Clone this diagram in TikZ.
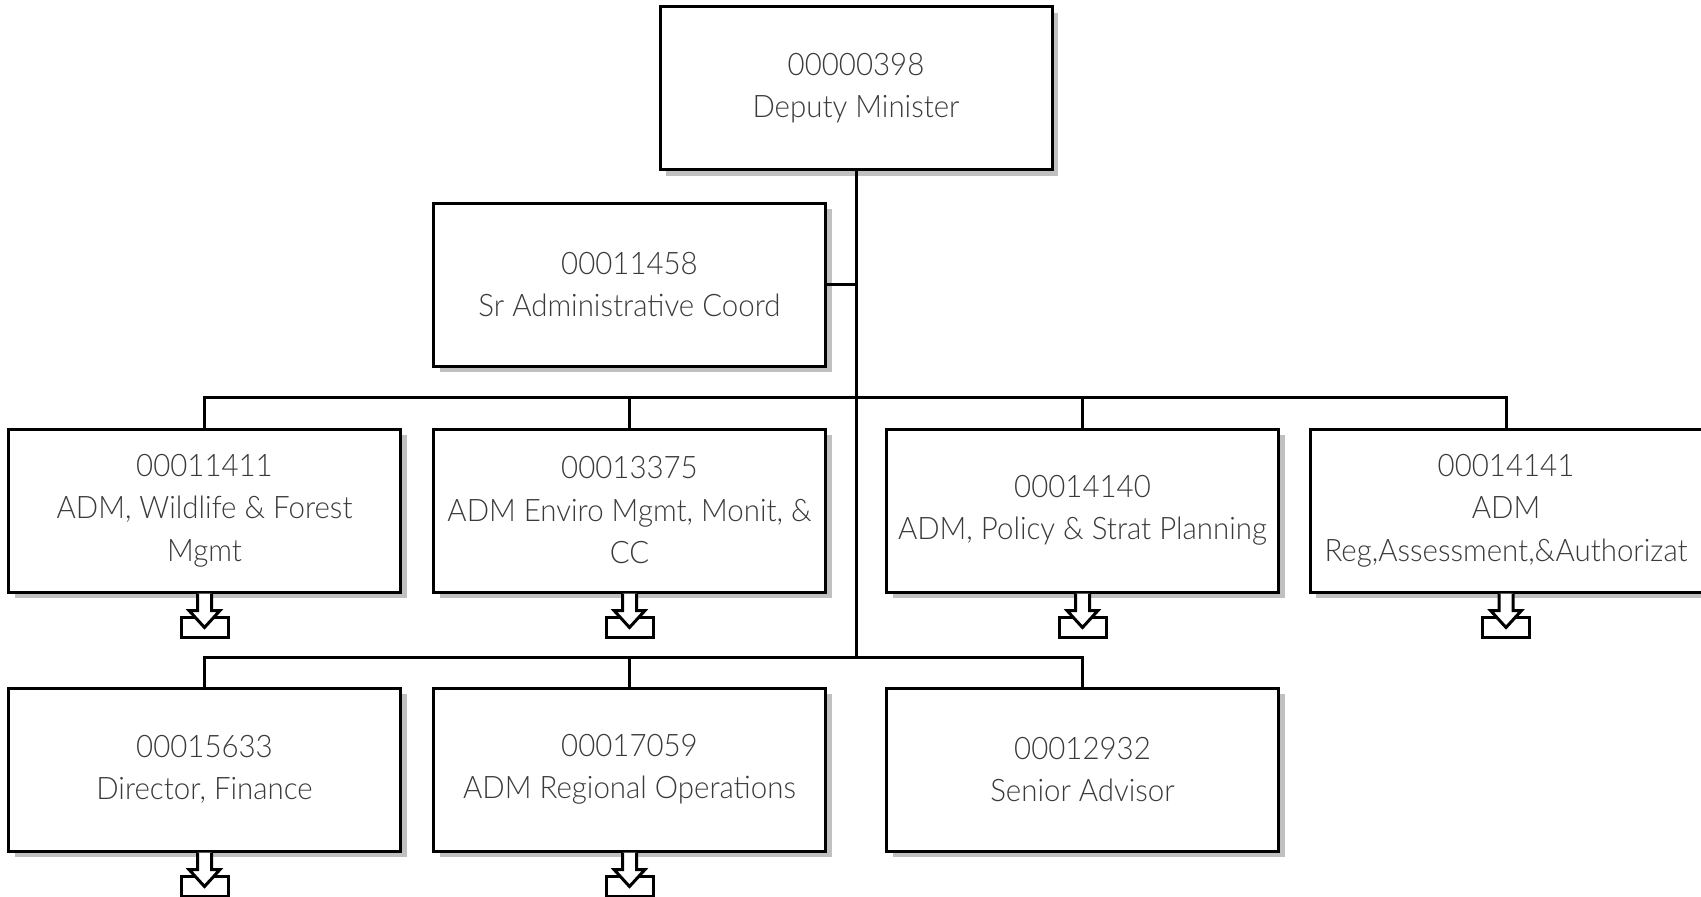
\documentclass[tikz,border=0pt]{standalone}
\usepackage{fontspec}
\setmainfont{Lato Light}[FakeStretch=0.95]
\usetikzlibrary{shadows}
\definecolor{shadowgray}{HTML}{C0C0C0}
\definecolor{txtgray}{HTML}{3A3A3A}
\begin{document}
\begin{tikzpicture}[x=1pt,y=-1pt,
  box/.style={draw=black, line width=3pt, fill=white, minimum width=392pt,
    minimum height=163pt, inner sep=0pt, align=center,
    font=\fontsize{31}{42.5}\selectfont, text=txtgray,
    drop shadow={shadow xshift=6pt, shadow yshift=-6pt, fill=shadowgray, opacity=1}},
  conn/.style={line width=3pt, line join=miter},
  subicon/.pic={
    \draw[line width=3pt, fill=white] (-23.5,24) rectangle (23.5,44);
    \draw[line width=3pt, fill=white, line join=miter] (-7,0) -- (-7,17) -- (-15.5,17) -- (0,34) -- (15.5,17) -- (7,17) -- (7,0);
  }
]
\useasboundingbox (0,0) rectangle (1701,897);
\clip (0,0) rectangle (1701,897);

\node[box] (top) at (856,88) {00000398\\Deputy Minister};
\node[box] (sr) at (629.5,284.5) {00011458\\Sr Administrative Coord};

\node[box] (r11) at (204.5,510.5) {00011411\\ADM, Wildlife \& Forest\\Mgmt};
\node[box] (r12) at (629.5,510.5) {00013375\\ADM Enviro Mgmt, Monit, \&\\CC};
\node[box] (r13) at (1082.5,510.5) {00014140\\ADM, Policy \& Strat Planning};
\node[box] (r14) at (1506,510.5) {00014141\\ADM\\Reg,Assessment,\&Authorizat};

\node[box] (r21) at (204.5,769.5) {00015633\\Director, Finance};
\node[box] (r22) at (629.5,769.5) {00017059\\ADM Regional Operations};
\node[box] (r23) at (1082.5,769.5) {00012932\\Senior Advisor};

\coordinate (b1) at (856,397);
\coordinate (b2) at (856,657);

\draw[conn] (top.south) -- (b2);
\draw[conn] (sr.east) -- (sr.east -| top.south);
\draw[conn] (r11.north) |- (b1) -| (r14.north);
\draw[conn] (r12.north) -- (r12.north |- b1);
\draw[conn] (r13.north) -- (r13.north |- b1);
\draw[conn] (r21.north) |- (b2) -| (r23.north);
\draw[conn] (r22.north) -- (r22.north |- b2);

\pic at (r11.south) {subicon};
\pic at (r12.south) {subicon};
\pic at (r13.south) {subicon};
\pic at (r14.south) {subicon};
\pic at (r21.south) {subicon};
\pic at (r22.south) {subicon};
\end{tikzpicture}
\end{document}
